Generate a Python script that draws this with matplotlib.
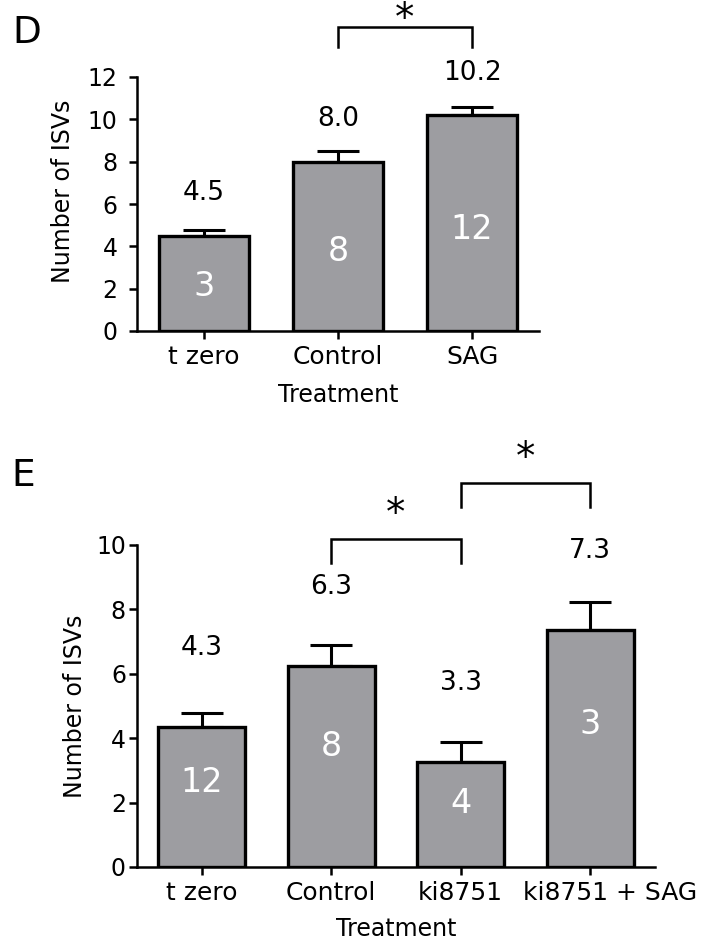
import numpy as np
import matplotlib.pyplot as plt
from matplotlib.transforms import ScaledTranslation

# panel D
d_groups = ['t zero', 'Control', 'SAG']
d_means = [4.5, 8.0, 10.2]
d_sem = [0.27, 0.5, 0.37]
d_n = [3, 8, 12]
d_labels = ['4.5', '8.0', '10.2']

# panel E
e_groups = ['t zero', 'Control', 'ki8751', 'ki8751 + SAG']
e_means = [4.35, 6.25, 3.27, 7.35]
e_sem = [0.43, 0.64, 0.6, 0.87]
e_n = [12, 8, 4, 3]
e_labels = ['4.3', '6.3', '3.3', '7.3']

BAR_COLOR = '#9d9da1'
plt.rcParams['font.family'] = ['DejaVu Sans']

W, H = 701, 943
fig = plt.figure(figsize=(W / 100, H / 100), dpi=100)


def px_axes(left, right, top, bottom):
    return fig.add_axes([left / W, 1 - bottom / H, (right - left) / W, (bottom - top) / H])


def panel(ax, groups, means, sem, n, labels, ymax, label_off, n_frac, brackets, drop, ypad):
    x = np.arange(len(groups))
    ax.bar(x, means, width=0.67, color=BAR_COLOR, edgecolor='black', linewidth=2.4, zorder=2)
    ax.errorbar(x, means, yerr=[np.zeros(len(sem)), sem], fmt='none', ecolor='black',
                elinewidth=2.2, capsize=15, capthick=2.2, zorder=1)
    for xi, m, lab, k in zip(x, means, labels, n):
        ax.text(xi, m + label_off, lab, ha='center', va='center', fontsize=19)
        ax.text(xi, m * n_frac, str(k), ha='center', va='center', fontsize=24, color='white')
    # significance brackets, star baseline offset given in points
    for i, j, y, star_off in brackets:
        ax.plot([i, i, j, j], [y - drop, y, y, y - drop], color='black', lw=1.8,
                clip_on=False, solid_joinstyle='miter')
        ax.annotate('*', xy=((i + j) / 2, y), xytext=(0, star_off), textcoords='offset points',
                    ha='center', va='baseline', fontsize=28, annotation_clip=False)
    ax.set_xlim(-0.5, len(groups) - 0.5)
    ax.set_ylim(0, ymax)
    ax.set_yticks(np.arange(0, ymax + 1, 2))
    ax.set_xticks(x)
    ax.set_xticklabels(groups, fontsize=18)
    for s in ['top', 'right']:
        ax.spines[s].set_visible(False)
    for s in ['left', 'bottom']:
        ax.spines[s].set_linewidth(1.8)
    ax.tick_params(axis='both', width=1.8, length=6)
    ax.tick_params(axis='y', pad=ypad, labelsize=17)
    ax.tick_params(axis='x', pad=4)
    ax.set_ylabel('Number of ISVs', fontsize=17)
    ax.set_xlabel('Treatment', fontsize=17)


ax_d = px_axes(137, 539, 77, 331)
panel(ax_d, d_groups, d_means, d_sem, d_n, d_labels, 12, 2.0, 0.47,
      [(1, 2, 14.36, -2)], 0.95, 8)
ax_d.yaxis.set_label_coords(-0.155, 0.55)
ax_d.xaxis.set_label_coords(0.5, -0.205)

ax_e = px_axes(137, 655, 545, 867)
panel(ax_e, e_groups, e_means, e_sem, e_n, e_labels, 10, 2.45, 0.6,
      [(1, 2, 10.19, 10), (2, 3, 11.93, 10)], 0.75, 2)
ax_e.yaxis.set_label_coords(-0.097, 0.5)
ax_e.xaxis.set_label_coords(0.5, -0.155)

# the last label sits a bit right of its tick in the original
last = ax_e.get_xticklabels()[-1]
last.set_transform(last.get_transform() + ScaledTranslation(0.2, 0, fig.dpi_scale_trans))

fig.text(12 / W, 1 - 33 / H, 'D', fontsize=27, va='center', ha='left')
fig.text(11 / W, 1 - 476 / H, 'E', fontsize=27, va='center', ha='left')

fig.savefig('out.png', dpi=100)
